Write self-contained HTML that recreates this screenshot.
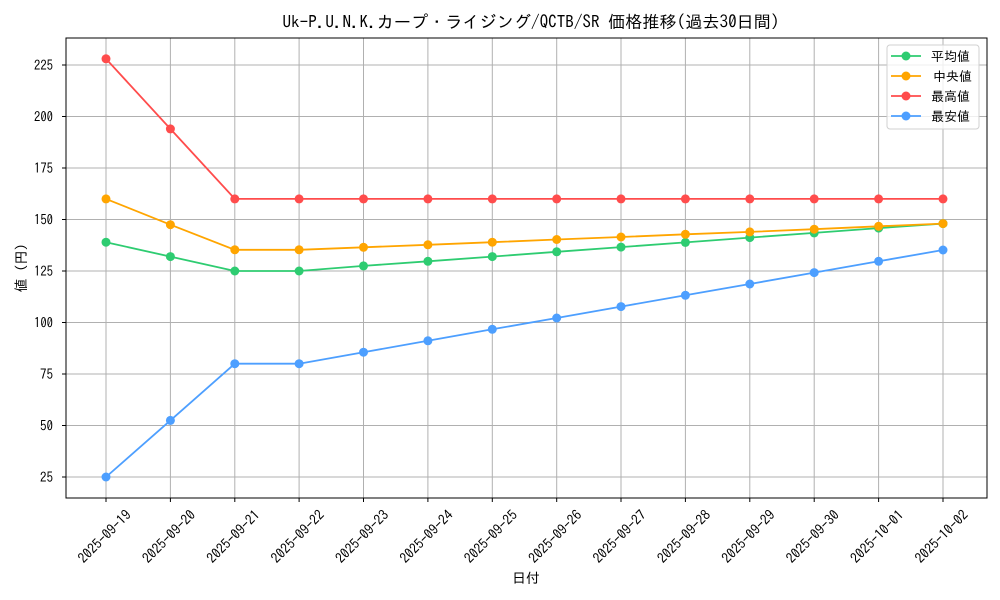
<!DOCTYPE html><html><head><meta charset="utf-8"><style>body{margin:0;background:#fff}svg{display:block;font-family:"IPAGothic","Liberation Sans","Noto Sans CJK JP",sans-serif}</style></head><body>
<svg width="1000" height="600" xmlns="http://www.w3.org/2000/svg">
<rect width="1000" height="600" fill="#fff"/>
<g stroke="#b0b0b0" stroke-width="1">
<line x1="106" y1="38" x2="106" y2="498"/><line x1="170.4" y1="38" x2="170.4" y2="498"/><line x1="234.8" y1="38" x2="234.8" y2="498"/><line x1="299.1" y1="38" x2="299.1" y2="498"/><line x1="363.5" y1="38" x2="363.5" y2="498"/><line x1="427.9" y1="38" x2="427.9" y2="498"/><line x1="492.3" y1="38" x2="492.3" y2="498"/><line x1="556.7" y1="38" x2="556.7" y2="498"/><line x1="621" y1="38" x2="621" y2="498"/><line x1="685.4" y1="38" x2="685.4" y2="498"/><line x1="749.8" y1="38" x2="749.8" y2="498"/><line x1="814.2" y1="38" x2="814.2" y2="498"/><line x1="878.6" y1="38" x2="878.6" y2="498"/><line x1="943" y1="38" x2="943" y2="498"/>
<line x1="66" y1="477" x2="987" y2="477"/><line x1="66" y1="425.5" x2="987" y2="425.5"/><line x1="66" y1="374" x2="987" y2="374"/><line x1="66" y1="322.5" x2="987" y2="322.5"/><line x1="66" y1="271" x2="987" y2="271"/><line x1="66" y1="219.5" x2="987" y2="219.5"/><line x1="66" y1="168" x2="987" y2="168"/><line x1="66" y1="116.5" x2="987" y2="116.5"/><line x1="66" y1="65" x2="987" y2="65"/>
</g>
<rect x="66" y="38" width="921" height="460" fill="none" stroke="#000" stroke-width="1"/>
<g stroke="#000"><line x1="106" y1="498" x2="106" y2="502"/><line x1="170.4" y1="498" x2="170.4" y2="502"/><line x1="234.8" y1="498" x2="234.8" y2="502"/><line x1="299.1" y1="498" x2="299.1" y2="502"/><line x1="363.5" y1="498" x2="363.5" y2="502"/><line x1="427.9" y1="498" x2="427.9" y2="502"/><line x1="492.3" y1="498" x2="492.3" y2="502"/><line x1="556.7" y1="498" x2="556.7" y2="502"/><line x1="621" y1="498" x2="621" y2="502"/><line x1="685.4" y1="498" x2="685.4" y2="502"/><line x1="749.8" y1="498" x2="749.8" y2="502"/><line x1="814.2" y1="498" x2="814.2" y2="502"/><line x1="878.6" y1="498" x2="878.6" y2="502"/><line x1="943" y1="498" x2="943" y2="502"/>
<line x1="62" y1="477" x2="66" y2="477"/><line x1="62" y1="425.5" x2="66" y2="425.5"/><line x1="62" y1="374" x2="66" y2="374"/><line x1="62" y1="322.5" x2="66" y2="322.5"/><line x1="62" y1="271" x2="66" y2="271"/><line x1="62" y1="219.5" x2="66" y2="219.5"/><line x1="62" y1="168" x2="66" y2="168"/><line x1="62" y1="116.5" x2="66" y2="116.5"/><line x1="62" y1="65" x2="66" y2="65"/></g>
<g font-size="14" text-anchor="end" fill="#000">
<text x="53" y="482" textLength="13" lengthAdjust="spacingAndGlyphs">25</text><text x="53" y="430.5" textLength="13" lengthAdjust="spacingAndGlyphs">50</text><text x="53" y="379" textLength="13" lengthAdjust="spacingAndGlyphs">75</text><text x="53" y="327.5" textLength="19" lengthAdjust="spacingAndGlyphs">100</text><text x="53" y="276" textLength="19" lengthAdjust="spacingAndGlyphs">125</text><text x="53" y="224.5" textLength="19" lengthAdjust="spacingAndGlyphs">150</text><text x="53" y="173" textLength="19" lengthAdjust="spacingAndGlyphs">175</text><text x="53" y="121.5" textLength="19" lengthAdjust="spacingAndGlyphs">200</text><text x="53" y="70" textLength="19" lengthAdjust="spacingAndGlyphs">225</text>
</g>
<g font-size="14" text-anchor="middle" fill="#000">
<text transform="translate(108,540) rotate(-45)" textLength="68" lengthAdjust="spacingAndGlyphs">2025-09-19</text><text transform="translate(172.4,540) rotate(-45)" textLength="68" lengthAdjust="spacingAndGlyphs">2025-09-20</text><text transform="translate(236.8,540) rotate(-45)" textLength="68" lengthAdjust="spacingAndGlyphs">2025-09-21</text><text transform="translate(301.1,540) rotate(-45)" textLength="68" lengthAdjust="spacingAndGlyphs">2025-09-22</text><text transform="translate(365.5,540) rotate(-45)" textLength="68" lengthAdjust="spacingAndGlyphs">2025-09-23</text><text transform="translate(429.9,540) rotate(-45)" textLength="68" lengthAdjust="spacingAndGlyphs">2025-09-24</text><text transform="translate(494.3,540) rotate(-45)" textLength="68" lengthAdjust="spacingAndGlyphs">2025-09-25</text><text transform="translate(558.7,540) rotate(-45)" textLength="68" lengthAdjust="spacingAndGlyphs">2025-09-26</text><text transform="translate(623,540) rotate(-45)" textLength="68" lengthAdjust="spacingAndGlyphs">2025-09-27</text><text transform="translate(687.4,540) rotate(-45)" textLength="68" lengthAdjust="spacingAndGlyphs">2025-09-28</text><text transform="translate(751.8,540) rotate(-45)" textLength="68" lengthAdjust="spacingAndGlyphs">2025-09-29</text><text transform="translate(816.2,540) rotate(-45)" textLength="68" lengthAdjust="spacingAndGlyphs">2025-09-30</text><text transform="translate(880.6,540) rotate(-45)" textLength="68" lengthAdjust="spacingAndGlyphs">2025-10-01</text><text transform="translate(945,540) rotate(-45)" textLength="68" lengthAdjust="spacingAndGlyphs">2025-10-02</text>
</g>
<text x="526" y="583" font-size="14" text-anchor="middle">日付</text>
<text transform="translate(26,268) rotate(-90)" font-size="14" text-anchor="middle">値 (円)</text>
<text x="531" y="28" font-size="17" text-anchor="middle" textLength="497" lengthAdjust="spacingAndGlyphs">Uk-P.U.N.K.カープ・ライジング/QCTB/SR 価格推移(過去30日間)</text>
<g fill="none" stroke-width="1.8">
<polyline stroke="#2ecc71" points="106,242.2 170.4,256.6 234.8,271 299.1,271 363.5,265.9 427.9,261.3 492.3,256.6 556.7,251.8 621,247.1 685.4,242.4 749.8,237.6 814.2,232.9 878.6,228.1 943,223.6"/>
<polyline stroke="#ffa500" points="106,198.9 170.4,224.7 234.8,249.8 299.1,249.8 363.5,247.3 427.9,244.8 492.3,242.2 556.7,239.5 621,237 685.4,234.3 749.8,231.9 814.2,229.2 878.6,226.3 943,223.6"/>
<polyline stroke="#ff4c4c" points="106,58.8 170.4,128.9 234.8,198.9 299.1,198.9 363.5,198.9 427.9,198.9 492.3,198.9 556.7,198.9 621,198.9 685.4,198.9 749.8,198.9 814.2,198.9 878.6,198.9 943,198.9"/>
<polyline stroke="#4d9fff" points="106,477 170.4,420.4 234.8,363.7 299.1,363.7 363.5,352.2 427.9,340.8 492.3,329.3 556.7,318 621,306.6 685.4,295.3 749.8,284 814.2,272.6 878.6,261.3 943,250"/>
</g>
<g fill="#2ecc71"><circle cx="106" cy="242.2" r="4.5"/><circle cx="170.4" cy="256.6" r="4.5"/><circle cx="234.8" cy="271" r="4.5"/><circle cx="299.1" cy="271" r="4.5"/><circle cx="363.5" cy="265.9" r="4.5"/><circle cx="427.9" cy="261.3" r="4.5"/><circle cx="492.3" cy="256.6" r="4.5"/><circle cx="556.7" cy="251.8" r="4.5"/><circle cx="621" cy="247.1" r="4.5"/><circle cx="685.4" cy="242.4" r="4.5"/><circle cx="749.8" cy="237.6" r="4.5"/><circle cx="814.2" cy="232.9" r="4.5"/><circle cx="878.6" cy="228.1" r="4.5"/><circle cx="943" cy="223.6" r="4.5"/></g>
<g fill="#ffa500"><circle cx="106" cy="198.9" r="4.5"/><circle cx="170.4" cy="224.7" r="4.5"/><circle cx="234.8" cy="249.8" r="4.5"/><circle cx="299.1" cy="249.8" r="4.5"/><circle cx="363.5" cy="247.3" r="4.5"/><circle cx="427.9" cy="244.8" r="4.5"/><circle cx="492.3" cy="242.2" r="4.5"/><circle cx="556.7" cy="239.5" r="4.5"/><circle cx="621" cy="237" r="4.5"/><circle cx="685.4" cy="234.3" r="4.5"/><circle cx="749.8" cy="231.9" r="4.5"/><circle cx="814.2" cy="229.2" r="4.5"/><circle cx="878.6" cy="226.3" r="4.5"/><circle cx="943" cy="223.6" r="4.5"/></g>
<g fill="#ff4c4c"><circle cx="106" cy="58.8" r="4.5"/><circle cx="170.4" cy="128.9" r="4.5"/><circle cx="234.8" cy="198.9" r="4.5"/><circle cx="299.1" cy="198.9" r="4.5"/><circle cx="363.5" cy="198.9" r="4.5"/><circle cx="427.9" cy="198.9" r="4.5"/><circle cx="492.3" cy="198.9" r="4.5"/><circle cx="556.7" cy="198.9" r="4.5"/><circle cx="621" cy="198.9" r="4.5"/><circle cx="685.4" cy="198.9" r="4.5"/><circle cx="749.8" cy="198.9" r="4.5"/><circle cx="814.2" cy="198.9" r="4.5"/><circle cx="878.6" cy="198.9" r="4.5"/><circle cx="943" cy="198.9" r="4.5"/></g>
<g fill="#4d9fff"><circle cx="106" cy="477" r="4.5"/><circle cx="170.4" cy="420.4" r="4.5"/><circle cx="234.8" cy="363.7" r="4.5"/><circle cx="299.1" cy="363.7" r="4.5"/><circle cx="363.5" cy="352.2" r="4.5"/><circle cx="427.9" cy="340.8" r="4.5"/><circle cx="492.3" cy="329.3" r="4.5"/><circle cx="556.7" cy="318" r="4.5"/><circle cx="621" cy="306.6" r="4.5"/><circle cx="685.4" cy="295.3" r="4.5"/><circle cx="749.8" cy="284" r="4.5"/><circle cx="814.2" cy="272.6" r="4.5"/><circle cx="878.6" cy="261.3" r="4.5"/><circle cx="943" cy="250" r="4.5"/></g>
<rect x="887" y="45" width="92" height="84" rx="3" fill="#fff" fill-opacity="0.8" stroke="#d0d0d0"/>
<g stroke-width="1.8"><line x1="891" y1="56" x2="921" y2="56" stroke="#2ecc71"/><line x1="891" y1="76" x2="921" y2="76" stroke="#ffa500"/><line x1="891" y1="96" x2="921" y2="96" stroke="#ff4c4c"/><line x1="891" y1="116" x2="921" y2="116" stroke="#4d9fff"/></g>
<circle cx="906" cy="56" r="4.5" fill="#2ecc71"/><circle cx="906" cy="76" r="4.5" fill="#ffa500"/><circle cx="906" cy="96" r="4.5" fill="#ff4c4c"/><circle cx="906" cy="116" r="4.5" fill="#4d9fff"/>
<g font-size="13"><text x="931" y="61">平均値</text><text x="933" y="81">中央値</text><text x="931" y="101">最高値</text><text x="931" y="121">最安値</text></g>
</svg></body></html>
